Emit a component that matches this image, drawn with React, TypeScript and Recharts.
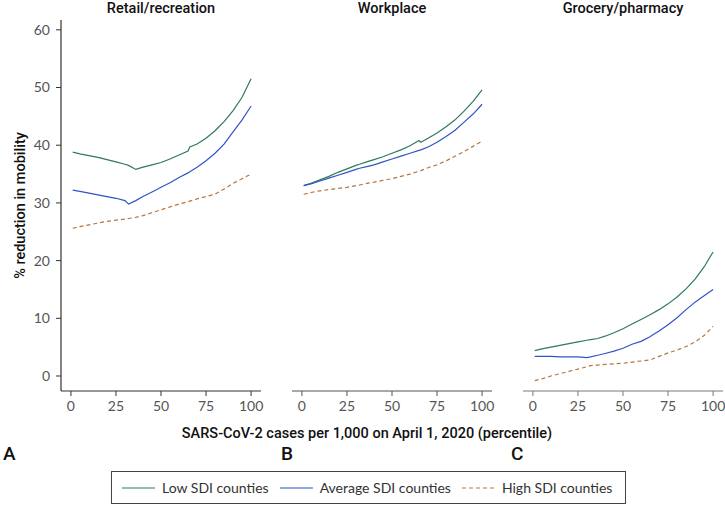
import React from "react";
import { LineChart, Line, XAxis, YAxis } from "recharts";

const percentiles = [1, 5, 10, 15, 20, 25, 30, 32, 36, 40, 45, 50, 55, 60, 65, 66, 70, 75, 80, 85, 90, 95, 100];

const retailLow = [38.8, 38.5, 38.2, 37.9, 37.5, 37.1, 36.7, 36.5, 35.8, 36.2, 36.6, 37.0, 37.6, 38.3, 39.0, 39.7, 40.2, 41.2, 42.5, 44.1, 46.0, 48.3, 51.5];
const retailAvg = [32.2, 32.0, 31.7, 31.4, 31.1, 30.8, 30.4, 29.8, 30.4, 31.1, 31.9, 32.7, 33.5, 34.4, 35.2, 35.4, 36.2, 37.3, 38.6, 40.2, 42.3, 44.4, 46.8];
const retailHigh = [25.6, 25.9, 26.2, 26.5, 26.8, 27.0, 27.2, 27.3, 27.5, 27.8, 28.3, 28.8, 29.3, 29.8, 30.2, 30.3, 30.7, 31.1, 31.5, 32.4, 33.4, 34.2, 35.0];

const workLow = [33.0, 33.4, 34.0, 34.6, 35.3, 35.9, 36.5, 36.7, 37.1, 37.5, 38.0, 38.6, 39.2, 39.9, 40.8, 40.5, 41.2, 42.1, 43.2, 44.4, 45.9, 47.6, 49.6];
const workAvg = [33.0, 33.3, 33.8, 34.3, 34.8, 35.3, 35.8, 36.0, 36.3, 36.6, 37.1, 37.6, 38.1, 38.6, 39.1, 39.2, 39.7, 40.5, 41.5, 42.6, 44.0, 45.4, 47.1];
const workHigh = [31.5, 31.8, 32.1, 32.3, 32.5, 32.7, 33.0, 33.1, 33.4, 33.6, 33.9, 34.2, 34.6, 35.0, 35.5, 35.6, 36.1, 36.6, 37.3, 38.1, 38.9, 39.8, 40.7];

const groceryLow = [4.4, 4.7, 5.0, 5.3, 5.6, 5.9, 6.2, 6.3, 6.5, 6.9, 7.5, 8.2, 9.0, 9.8, 10.6, 10.8, 11.5, 12.5, 13.7, 15.1, 16.8, 18.9, 21.5];
const groceryAvg = [3.4, 3.4, 3.4, 3.3, 3.3, 3.3, 3.2, 3.3, 3.6, 3.9, 4.3, 4.8, 5.5, 6.0, 6.8, 7.0, 7.8, 8.9, 10.1, 11.5, 12.8, 13.9, 15.0];
const groceryHigh = [-0.8, -0.5, 0.0, 0.4, 0.8, 1.2, 1.6, 1.8, 1.9, 2.0, 2.1, 2.2, 2.4, 2.6, 2.8, 2.9, 3.4, 4.0, 4.5, 5.1, 5.9, 7.0, 8.6];

const panelTitles = ["Retail/recreation", "Workplace", "Grocery/pharmacy"];
const panelLetters = ["A", "B", "C"];
const seriesNames = ["Low SDI counties", "Average SDI counties", "High SDI counties"];
const xTicks = [0, 25, 50, 75, 100];
const yTicks = [0, 10, 20, 30, 40, 50, 60];
const xLabel = "SARS-CoV-2 cases per 1,000 on April 1, 2020 (percentile)";
const yLabel = "% reduction in mobility";

const GREEN = "#2f7a5c";
const BLUE = "#2f55c6";
const BROWN = "#b5763f";

const build = (low: number[], avg: number[], high: number[]) =>
  percentiles.map((p, i) => ({ p, low: low[i], avg: avg[i], high: high[i] }));

const panels = [
  build(retailLow, retailAvg, retailHigh),
  build(workLow, workAvg, workHigh),
  build(groceryLow, groceryAvg, groceryHigh),
];

const plotLefts = [61, 292, 523];
const axisColors = ["#333", "#555", "#7a7a7a"];
const PLOT_W = 200;
const tickFont = { fontFamily: "Lato, 'Open Sans', sans-serif", fontSize: 14, fill: "#555" };

const titleStyle: React.CSSProperties = {
  position: "absolute",
  fontFamily: "Roboto, 'Noto Sans', sans-serif",
  fontWeight: 500,
  fontSize: 14.5,
  color: "#111",
  whiteSpace: "nowrap",
  lineHeight: "17px",
};

function Panel({ idx }: { idx: number }) {
  const isFirst = idx === 0;
  const yW = isFirst ? 61 : 0;
  const left = plotLefts[idx] - yW;
  const color = axisColors[idx];
  return (
    <div style={{ position: "absolute", left, top: 0 }}>
      <LineChart
        width={yW + PLOT_W + 6}
        height={421}
        data={panels[idx]}
        margin={{ top: 20, right: 6, bottom: 0, left: 0 }}
      >
        <XAxis
          dataKey="p"
          type="number"
          domain={[-5.5, 105.5]}
          ticks={xTicks}
          allowDataOverflow
          height={30}
          tickSize={5}
          tickMargin={5}
          stroke={color}
          axisLine={{ stroke: color, strokeWidth: 1.2 }}
          tickLine={{ stroke: color }}
          tick={tickFont}
        />
        <YAxis
          type="number"
          domain={[-2.6, 61.7]}
          allowDataOverflow
          ticks={yTicks}
          width={yW}
          tick={isFirst ? tickFont : false}
          tickLine={isFirst ? { stroke: color } : false}
          tickSize={5}
          tickMargin={6}
          axisLine={{ stroke: color, strokeWidth: 1.2 }}
        />
        <Line dataKey="low" name={seriesNames[0]} stroke={GREEN} strokeWidth={1.2} dot={false} isAnimationActive={false} type="linear" />
        <Line dataKey="avg" name={seriesNames[1]} stroke={BLUE} strokeWidth={1.2} dot={false} isAnimationActive={false} type="linear" />
        <Line dataKey="high" name={seriesNames[2]} stroke={BROWN} strokeWidth={1.2} strokeDasharray="4 3" dot={false} isAnimationActive={false} type="linear" />
      </LineChart>
    </div>
  );
}

function LegendItem({ color, dashed, label }: { color: string; dashed?: boolean; label: string }) {
  return (
    <div style={{ display: "flex", alignItems: "center", marginRight: 11 }}>
      <svg width={33} height={6} style={{ marginRight: 7 }}>
        <line x1={0} y1={3} x2={33} y2={3} stroke={color} strokeWidth={1.2} strokeDasharray={dashed ? "4 3" : undefined} />
      </svg>
      <span>{label}</span>
    </div>
  );
}

export default function App() {
  return (
    <div style={{ position: "absolute", left: 0, top: 0, width: 725, height: 506, background: "#fff", overflow: "hidden" }}>
      {[0, 1, 2].map((i) => (
        <Panel key={i} idx={i} />
      ))}
      {panelTitles.map((t, i) => (
        <div key={t} style={{ ...titleStyle, left: plotLefts[i], width: PLOT_W, top: 0, textAlign: "center" }}>
          {t}
        </div>
      ))}
      <div
        style={{
          ...titleStyle,
          left: 20 - 100,
          top: 205 - 8,
          width: 200,
          textAlign: "center",
          transform: "rotate(-90deg)",
        }}
      >
        {yLabel}
      </div>
      <div style={{ ...titleStyle, left: 167, width: 400, top: 425, textAlign: "center" }}>{xLabel}</div>
      {panelLetters.map((l, i) => (
        <div key={l} style={{ ...titleStyle, fontSize: 19, lineHeight: "22px", left: [3, 281, 511][i], top: 443 }}>
          {l}
        </div>
      ))}
      <div
        style={{
          position: "absolute",
          left: 111,
          top: 471,
          width: 515,
          height: 33,
          border: "1px solid #444",
          display: "flex",
          alignItems: "center",
          paddingLeft: 10,
          boxSizing: "border-box",
          fontFamily: "Lato, 'Open Sans', sans-serif",
          fontSize: 14,
          color: "#333",
          whiteSpace: "nowrap",
        }}
      >
        <LegendItem color={GREEN} label={seriesNames[0]} />
        <LegendItem color={BLUE} label={seriesNames[1]} />
        <LegendItem color={BROWN} dashed label={seriesNames[2]} />
      </div>
    </div>
  );
}
